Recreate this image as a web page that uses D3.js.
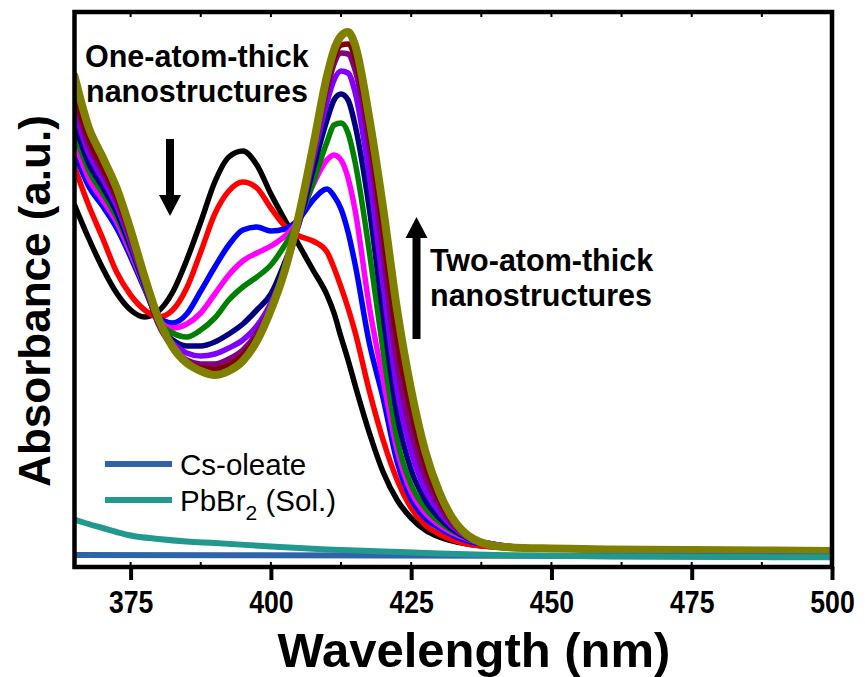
<!DOCTYPE html>
<html>
<head>
<meta charset="utf-8">
<script src="https://cdn.jsdelivr.net/npm/d3@7"></script>
<style>
  body { margin: 0; background: #fff; }
  svg { display: block; }
  text { font-family: "Liberation Sans", Arial, Helvetica, sans-serif; fill: #000; }
</style>
</head>
<body>
<svg id="chart" width="865" height="677"></svg>
<script>
// Wavelength grid (nm) shared by the time-resolved absorption scans
const wavelengths = [365, 367.5, 370, 372.5, 375, 377.5, 380, 382.5, 385, 387.5, 390, 392.5, 395, 397.5,
  400, 402.5, 405, 407.5, 410, 411.25, 412.5, 413.75, 415, 417.5, 420, 422.5, 425, 427.5, 430,
  435, 440, 445, 450, 460, 475, 500];

// Absorbance of each successive scan (a.u.)
const scan1 = [0.724, 0.658, 0.598, 0.548, 0.514, 0.500, 0.512, 0.550, 0.614, 0.690, 0.770, 0.820, 0.832, 0.804,
  0.746, 0.694, 0.644, 0.594, 0.544, 0.508, 0.460, 0.414, 0.364, 0.270, 0.190, 0.134, 0.098, 0.074, 0.060,
  0.046, 0.040, 0.038, 0.037, 0.035, 0.034, 0.032];
const scan2 = [0.800, 0.724, 0.658, 0.590, 0.544, 0.514, 0.500, 0.514, 0.558, 0.630, 0.706, 0.752, 0.770, 0.758,
  0.718, 0.682, 0.662, 0.652, 0.630, 0.598, 0.560, 0.518, 0.470, 0.354, 0.254, 0.174, 0.118, 0.084, 0.066,
  0.046, 0.040, 0.038, 0.037, 0.035, 0.034, 0.032];
const scan3 = [0.830, 0.762, 0.722, 0.678, 0.620, 0.556, 0.498, 0.488, 0.506, 0.552, 0.600, 0.644, 0.674, 0.680,
  0.672, 0.676, 0.696, 0.734, 0.756, 0.742, 0.716, 0.670, 0.606, 0.450, 0.338, 0.210, 0.136, 0.098, 0.078,
  0.052, 0.042, 0.038, 0.037, 0.035, 0.034, 0.032];
const scan4 = [0.850, 0.778, 0.734, 0.690, 0.628, 0.560, 0.494, 0.478, 0.486, 0.508, 0.546, 0.584, 0.612, 0.628,
  0.642, 0.662, 0.696, 0.764, 0.814, 0.824, 0.814, 0.778, 0.714, 0.524, 0.374, 0.234, 0.150, 0.108, 0.084,
  0.056, 0.043, 0.039, 0.037, 0.035, 0.034, 0.032];
const scan5 = [0.870, 0.794, 0.748, 0.700, 0.636, 0.562, 0.490, 0.468, 0.460, 0.474, 0.498, 0.534, 0.560, 0.580,
  0.604, 0.644, 0.694, 0.768, 0.850, 0.884, 0.888, 0.868, 0.810, 0.634, 0.432, 0.254, 0.164, 0.118, 0.090,
  0.058, 0.044, 0.039, 0.037, 0.035, 0.034, 0.032];
const scan6 = [0.888, 0.808, 0.760, 0.710, 0.640, 0.564, 0.486, 0.454, 0.442, 0.442, 0.450, 0.466, 0.486, 0.514,
  0.546, 0.610, 0.686, 0.794, 0.894, 0.934, 0.946, 0.934, 0.884, 0.720, 0.504, 0.304, 0.194, 0.134, 0.098,
  0.058, 0.045, 0.039, 0.037, 0.035, 0.034, 0.032];
const scan7 = [0.914, 0.828, 0.776, 0.722, 0.648, 0.568, 0.486, 0.448, 0.428, 0.422, 0.426, 0.438, 0.454, 0.482,
  0.528, 0.594, 0.690, 0.814, 0.930, 0.974, 0.992, 0.988, 0.950, 0.784, 0.564, 0.354, 0.230, 0.154, 0.110,
  0.060, 0.045, 0.039, 0.037, 0.035, 0.034, 0.032];
const scan8 = [0.934, 0.844, 0.790, 0.734, 0.656, 0.570, 0.484, 0.440, 0.414, 0.406, 0.406, 0.416, 0.434, 0.468,
  0.520, 0.592, 0.694, 0.824, 0.954, 1.006, 1.028, 1.026, 0.994, 0.844, 0.624, 0.404, 0.268, 0.178, 0.122,
  0.061, 0.044, 0.038, 0.037, 0.035, 0.034, 0.032];
const scan9 = [0.950, 0.858, 0.800, 0.742, 0.662, 0.574, 0.488, 0.440, 0.410, 0.398, 0.396, 0.404, 0.424, 0.460,
  0.516, 0.592, 0.698, 0.832, 0.966, 1.018, 1.044, 1.046, 1.018, 0.874, 0.670, 0.454, 0.310, 0.204, 0.136,
  0.062, 0.043, 0.038, 0.037, 0.035, 0.034, 0.032];
const scan10 = [0.982, 0.880, 0.820, 0.758, 0.674, 0.580, 0.496, 0.440, 0.408, 0.392, 0.384, 0.392, 0.412, 0.452,
  0.514, 0.594, 0.704, 0.840, 0.982, 1.034, 1.062, 1.070, 1.044, 0.900, 0.718, 0.514, 0.354, 0.232, 0.150,
  0.064, 0.042, 0.038, 0.037, 0.035, 0.034, 0.032];

// Precursor reference spectra
const csOleateWl = [365, 420, 500];
const csOleateAbs = [0.024, 0.023, 0.021];
const pbbr2Wl = [365, 367.5, 370, 372.5, 375, 380, 385, 390, 400, 410, 420, 430, 440, 460, 480, 500];
const pbbr2Abs = [0.095, 0.086, 0.078, 0.070, 0.063, 0.056, 0.051, 0.048, 0.041, 0.035, 0.031, 0.027, 0.024, 0.021, 0.020, 0.0195];

const xTicks = [375, 400, 425, 450, 475, 500];
const legendLabels = ["Cs-oleate", "PbBr2 (Sol.)"];

// ---------------------------------------------------------------
const svg = d3.select("#chart");
const plot = { left: 74.5, right: 832, top: 12, bottom: 567 };

const x = d3.scaleLinear().domain([365, 500]).range([plot.left, plot.right]);
const y = d3.scaleLinear().domain([0, 1.11]).range([plot.bottom, plot.top]);

svg.append("defs").append("clipPath").attr("id", "plot-clip")
  .append("rect")
  .attr("x", plot.left).attr("y", plot.top)
  .attr("width", plot.right - plot.left).attr("height", plot.bottom - plot.top);

const line = d3.line()
  .x(d => x(d[0]))
  .y(d => y(d[1]))
  .curve(d3.curveMonotoneX);

const scans = [scan1, scan2, scan3, scan4, scan5, scan6, scan7, scan8, scan9, scan10];
const scanColors = ["#000000", "#ff0000", "#0000ff", "#ff00ff", "#008000",
                    "#000080", "#8000ff", "#800080", "#800000", "#808000"];

const curves = svg.append("g").attr("clip-path", "url(#plot-clip)");

scans.forEach((vals, i) => {
  curves.append("path")
    .datum(wavelengths.map((w, j) => [w, vals[j]]))
    .attr("d", line)
    .attr("fill", "none")
    .attr("stroke", scanColors[i])
    .attr("stroke-width", i === scans.length - 1 ? 8 : 5.5)
    .attr("stroke-linejoin", "round")
    .attr("stroke-linecap", "round");
});

const refColors = ["#3064a8", "#22998f"];
curves.append("path")
  .datum(csOleateWl.map((w, j) => [w, csOleateAbs[j]]))
  .attr("d", line)
  .attr("fill", "none").attr("stroke", refColors[0]).attr("stroke-width", 6);
curves.append("path")
  .datum(pbbr2Wl.map((w, j) => [w, pbbr2Abs[j]]))
  .attr("d", line)
  .attr("fill", "none").attr("stroke", refColors[1]).attr("stroke-width", 6);

// Bottom axis with outward major ticks
const xAxis = svg.append("g")
  .attr("transform", `translate(0,${plot.bottom})`)
  .call(d3.axisBottom(x).tickValues(xTicks).tickSize(13).tickSizeOuter(0).tickFormat(d3.format("d")));
xAxis.select(".domain").remove();
xAxis.selectAll(".tick line").attr("stroke", "#000").attr("stroke-width", 4);
xAxis.selectAll(".tick text")
  .attr("y", 0).attr("dy", 0)
  .attr("transform", "translate(0,46) scale(0.86,1)")
  .style("font-size", "31px").style("font-weight", "bold");

// Small inward ticks on top and bottom edges
const minor = d3.range(375, 500.1, 12.5);
svg.append("g").selectAll("line.mb").data(minor).join("line")
  .attr("x1", d => x(d)).attr("x2", d => x(d))
  .attr("y1", plot.bottom).attr("y2", plot.bottom - 5)
  .attr("stroke", "#000").attr("stroke-width", 2);
svg.append("g").selectAll("line.mt").data(minor).join("line")
  .attr("x1", d => x(d)).attr("x2", d => x(d))
  .attr("y1", plot.top).attr("y2", plot.top + 5)
  .attr("stroke", "#000").attr("stroke-width", 2);

// Frame
svg.append("rect")
  .attr("x", plot.left).attr("y", plot.top)
  .attr("width", plot.right - plot.left).attr("height", plot.bottom - plot.top)
  .attr("fill", "none").attr("stroke", "#000").attr("stroke-width", 4.5);

// Axis titles
svg.append("text")
  .attr("x", 474).attr("y", 667)
  .attr("text-anchor", "middle")
  .style("font-size", "49px").style("font-weight", "bold")
  .text("Wavelength (nm)");

svg.append("text")
  .attr("transform", "translate(50,301) rotate(-90)")
  .attr("text-anchor", "middle")
  .style("font-size", "44px").style("font-weight", "bold")
  .text("Absorbance (a.u.)");

// Annotations
const note = svg.append("g").style("font-size", "30.5px").style("font-weight", "bold");
note.append("text").attr("x", 85).attr("y", 67).text("One-atom-thick");
note.append("text").attr("x", 86).attr("y", 102).text("nanostructures");
note.append("text").attr("x", 430).attr("y", 271).text("Two-atom-thick");
note.append("text").attr("x", 430).attr("y", 306).text("nanostructures");

// Arrows
function arrow(xc, yTail, yTip) {
  const dir = Math.sign(yTip - yTail);
  const headLen = 21, headHalf = 11;
  svg.append("line")
    .attr("x1", xc).attr("x2", xc)
    .attr("y1", yTail).attr("y2", yTip - dir * headLen)
    .attr("stroke", "#000").attr("stroke-width", 8);
  svg.append("path")
    .attr("d", `M${xc - headHalf},${yTip - dir * headLen} L${xc + headHalf},${yTip - dir * headLen} L${xc},${yTip} Z`)
    .attr("fill", "#000");
}
arrow(170, 139, 216);
arrow(416.5, 339, 217);

// Legend
const legend = svg.append("g");
const legendY = [464, 500];
legendLabels.forEach((lab, i) => {
  legend.append("line")
    .attr("x1", 105).attr("x2", 172)
    .attr("y1", legendY[i]).attr("y2", legendY[i])
    .attr("stroke", refColors[i]).attr("stroke-width", 6);
});
legend.append("text")
  .attr("x", 180).attr("y", 475)
  .style("font-size", "29.5px")
  .text(legendLabels[0]);
const pb = legend.append("text")
  .attr("x", 180).attr("y", 511)
  .style("font-size", "29.5px");
pb.append("tspan").text("PbBr");
pb.append("tspan").attr("dy", 9).style("font-size", "21px").text("2");
pb.append("tspan").attr("dy", -9).text(" (Sol.)");
</script>
</body>
</html>
